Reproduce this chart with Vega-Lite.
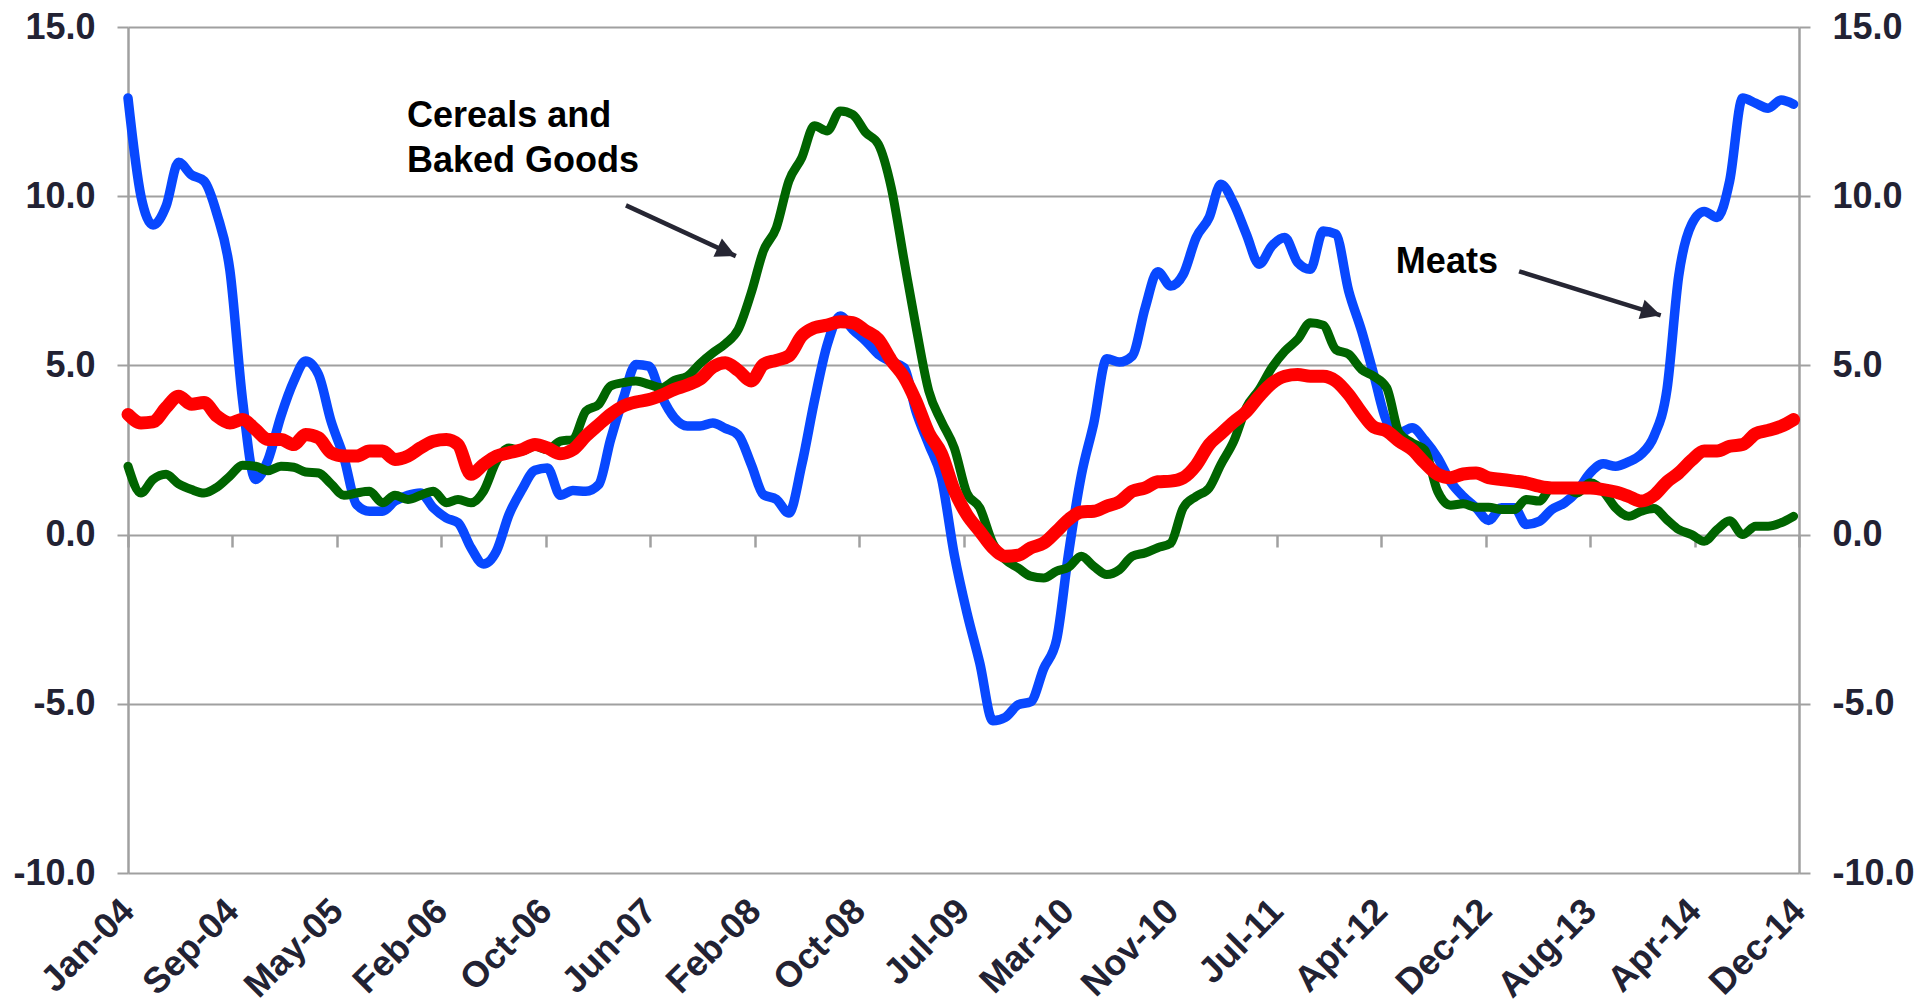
{
  "$schema": "https://vega.github.io/schema/vega-lite/v6.json",
  "width": 1671,
  "height": 846,
  "autosize": {"type": "none"},
  "padding": {"left": 128, "top": 27, "right": 118, "bottom": 134},
  "background": "white",
  "config": {
    "view": {"stroke": null},
    "font": "Liberation Sans",
    "axis": {"labelFont": "Liberation Sans", "labelFontSize": 36, "labelFontWeight": "bold", "labelColor": "#222233", "titleFont": "Liberation Sans"}
  },
  "datasets": {
    "food": [
      {"date":"2004-01-15","meats":12.9,"cereals":2.02,"food":3.55},
      {"date":"2004-02-15","meats":10.0,"cereals":1.23,"food":3.3},
      {"date":"2004-03-15","meats":9.15,"cereals":1.63,"food":3.33},
      {"date":"2004-04-15","meats":9.7,"cereals":1.78,"food":3.75},
      {"date":"2004-05-15","meats":11.0,"cereals":1.5,"food":4.09},
      {"date":"2004-06-15","meats":10.63,"cereals":1.33,"food":3.85},
      {"date":"2004-07-15","meats":10.45,"cereals":1.23,"food":3.9},
      {"date":"2004-08-15","meats":9.47,"cereals":1.4,"food":3.5},
      {"date":"2004-09-15","meats":7.8,"cereals":1.73,"food":3.3},
      {"date":"2004-10-15","meats":4.0,"cereals":2.05,"food":3.4},
      {"date":"2004-11-15","meats":1.63,"cereals":2.02,"food":3.11},
      {"date":"2004-12-15","meats":2.2,"cereals":1.89,"food":2.81},
      {"date":"2005-01-15","meats":3.5,"cereals":2.02,"food":2.81},
      {"date":"2005-02-15","meats":4.54,"cereals":1.99,"food":2.66},
      {"date":"2005-03-15","meats":5.13,"cereals":1.85,"food":2.96},
      {"date":"2005-04-15","meats":4.73,"cereals":1.82,"food":2.86},
      {"date":"2005-05-15","meats":3.35,"cereals":1.5,"food":2.42},
      {"date":"2005-06-15","meats":2.27,"cereals":1.16,"food":2.32},
      {"date":"2005-07-15","meats":0.89,"cereals":1.23,"food":2.32},
      {"date":"2005-08-15","meats":0.69,"cereals":1.28,"food":2.47},
      {"date":"2005-09-15","meats":0.69,"cereals":0.94,"food":2.47},
      {"date":"2005-10-15","meats":0.99,"cereals":1.16,"food":2.22},
      {"date":"2005-11-15","meats":1.16,"cereals":1.04,"food":2.32},
      {"date":"2005-12-15","meats":1.23,"cereals":1.16,"food":2.56},
      {"date":"2006-01-15","meats":0.79,"cereals":1.28,"food":2.76},
      {"date":"2006-02-15","meats":0.49,"cereals":0.94,"food":2.81},
      {"date":"2006-03-15","meats":0.35,"cereals":1.04,"food":2.66},
      {"date":"2006-04-15","meats":-0.39,"cereals":0.94,"food":1.78},
      {"date":"2006-05-15","meats":-0.87,"cereals":1.28,"food":2.07},
      {"date":"2006-06-15","meats":-0.49,"cereals":2.17,"food":2.32},
      {"date":"2006-07-15","meats":0.59,"cereals":2.56,"food":2.42},
      {"date":"2006-08-15","meats":1.33,"cereals":2.47,"food":2.51},
      {"date":"2006-09-15","meats":1.9,"cereals":2.61,"food":2.66},
      {"date":"2006-10-15","meats":1.97,"cereals":2.51,"food":2.56},
      {"date":"2006-11-15","meats":1.16,"cereals":2.76,"food":2.39},
      {"date":"2006-12-15","meats":1.3,"cereals":2.81,"food":2.51},
      {"date":"2007-01-15","meats":1.28,"cereals":3.65,"food":2.91},
      {"date":"2007-02-15","meats":1.48,"cereals":3.85,"food":3.25},
      {"date":"2007-03-15","meats":2.8,"cereals":4.39,"food":3.55},
      {"date":"2007-04-15","meats":4.04,"cereals":4.49,"food":3.8},
      {"date":"2007-05-15","meats":5.03,"cereals":4.54,"food":3.92},
      {"date":"2007-06-15","meats":4.98,"cereals":4.44,"food":3.99},
      {"date":"2007-07-15","meats":4.09,"cereals":4.34,"food":4.12},
      {"date":"2007-08-15","meats":3.45,"cereals":4.56,"food":4.29},
      {"date":"2007-09-15","meats":3.21,"cereals":4.68,"food":4.42},
      {"date":"2007-10-15","meats":3.21,"cereals":5.05,"food":4.59},
      {"date":"2007-11-15","meats":3.3,"cereals":5.37,"food":4.95},
      {"date":"2007-12-15","meats":3.14,"cereals":5.64,"food":5.08},
      {"date":"2008-01-15","meats":2.94,"cereals":6.07,"food":4.85},
      {"date":"2008-02-15","meats":2.07,"cereals":7.15,"food":4.54},
      {"date":"2008-03-15","meats":1.18,"cereals":8.38,"food":5.03},
      {"date":"2008-04-15","meats":1.04,"cereals":9.07,"food":5.15},
      {"date":"2008-05-15","meats":0.64,"cereals":10.45,"food":5.28},
      {"date":"2008-06-15","meats":2.07,"cereals":11.14,"food":5.87},
      {"date":"2008-07-15","meats":3.94,"cereals":12.08,"food":6.11},
      {"date":"2008-08-15","meats":5.62,"cereals":11.93,"food":6.19},
      {"date":"2008-09-15","meats":6.46,"cereals":12.52,"food":6.29},
      {"date":"2008-10-15","meats":6.06,"cereals":12.41,"food":6.26},
      {"date":"2008-11-15","meats":5.72,"cereals":11.88,"food":6.02},
      {"date":"2008-12-15","meats":5.33,"cereals":11.54,"food":5.77},
      {"date":"2009-01-15","meats":5.11,"cereals":10.26,"food":5.15},
      {"date":"2009-02-15","meats":4.93,"cereals":8.09,"food":4.65},
      {"date":"2009-03-15","meats":3.65,"cereals":6.16,"food":3.95},
      {"date":"2009-04-15","meats":2.66,"cereals":4.24,"food":3.0},
      {"date":"2009-05-15","meats":1.68,"cereals":3.35,"food":2.4},
      {"date":"2009-06-15","meats":-0.6,"cereals":2.56,"food":1.3},
      {"date":"2009-07-15","meats":-2.3,"cereals":1.23,"food":0.59},
      {"date":"2009-08-15","meats":-3.8,"cereals":0.79,"food":0.1},
      {"date":"2009-09-15","meats":-5.5,"cereals":-0.25,"food":-0.39},
      {"date":"2009-10-15","meats":-5.4,"cereals":-0.74,"food":-0.64},
      {"date":"2009-11-15","meats":-5.03,"cereals":-0.99,"food":-0.61},
      {"date":"2009-12-15","meats":-4.94,"cereals":-1.23,"food":-0.39},
      {"date":"2010-01-15","meats":-3.96,"cereals":-1.28,"food":-0.25},
      {"date":"2010-02-15","meats":-3.1,"cereals":-1.08,"food":0.1},
      {"date":"2010-03-15","meats":-0.6,"cereals":-0.97,"food":0.44},
      {"date":"2010-04-15","meats":1.75,"cereals":-0.64,"food":0.67},
      {"date":"2010-05-15","meats":3.3,"cereals":-0.94,"food":0.69},
      {"date":"2010-06-15","meats":5.2,"cereals":-1.18,"food":0.84},
      {"date":"2010-07-15","meats":5.1,"cereals":-1.04,"food":0.97},
      {"date":"2010-08-15","meats":5.28,"cereals":-0.64,"food":1.28},
      {"date":"2010-09-15","meats":6.71,"cereals":-0.54,"food":1.38},
      {"date":"2010-10-15","meats":7.77,"cereals":-0.39,"food":1.56},
      {"date":"2010-11-15","meats":7.35,"cereals":-0.25,"food":1.58},
      {"date":"2010-12-15","meats":7.69,"cereals":0.79,"food":1.68},
      {"date":"2011-01-15","meats":8.78,"cereals":1.13,"food":2.05},
      {"date":"2011-02-15","meats":9.37,"cereals":1.38,"food":2.66},
      {"date":"2011-03-15","meats":10.35,"cereals":2.07,"food":2.98},
      {"date":"2011-04-15","meats":9.78,"cereals":2.76,"food":3.33},
      {"date":"2011-05-15","meats":8.88,"cereals":3.75,"food":3.63},
      {"date":"2011-06-15","meats":7.99,"cereals":4.29,"food":4.09},
      {"date":"2011-07-15","meats":8.53,"cereals":4.93,"food":4.47},
      {"date":"2011-08-15","meats":8.78,"cereals":5.42,"food":4.68},
      {"date":"2011-09-15","meats":8.04,"cereals":5.77,"food":4.73},
      {"date":"2011-10-15","meats":7.84,"cereals":6.26,"food":4.68},
      {"date":"2011-11-15","meats":8.97,"cereals":6.19,"food":4.68},
      {"date":"2011-12-15","meats":8.88,"cereals":5.47,"food":4.54},
      {"date":"2012-01-15","meats":7.2,"cereals":5.33,"food":4.14},
      {"date":"2012-02-15","meats":6.02,"cereals":4.88,"food":3.6},
      {"date":"2012-03-15","meats":4.73,"cereals":4.68,"food":3.18},
      {"date":"2012-04-15","meats":3.35,"cereals":4.34,"food":3.06},
      {"date":"2012-05-15","meats":3.0,"cereals":3.0,"food":2.76},
      {"date":"2012-06-15","meats":3.16,"cereals":2.71,"food":2.51},
      {"date":"2012-07-15","meats":2.79,"cereals":2.5,"food":2.12},
      {"date":"2012-08-15","meats":2.27,"cereals":1.28,"food":1.78},
      {"date":"2012-09-15","meats":1.56,"cereals":0.87,"food":1.68},
      {"date":"2012-10-15","meats":1.13,"cereals":0.91,"food":1.79},
      {"date":"2012-11-15","meats":0.79,"cereals":0.81,"food":1.82},
      {"date":"2012-12-15","meats":0.42,"cereals":0.81,"food":1.68},
      {"date":"2013-01-15","meats":0.79,"cereals":0.74,"food":1.63},
      {"date":"2013-02-15","meats":0.79,"cereals":0.74,"food":1.58},
      {"date":"2013-03-15","meats":0.3,"cereals":1.04,"food":1.53},
      {"date":"2013-04-15","meats":0.39,"cereals":0.99,"food":1.43},
      {"date":"2013-05-15","meats":0.74,"cereals":1.38,"food":1.38},
      {"date":"2013-06-15","meats":0.94,"cereals":1.38,"food":1.38},
      {"date":"2013-07-15","meats":1.28,"cereals":1.23,"food":1.38},
      {"date":"2013-08-15","meats":1.82,"cereals":1.53,"food":1.38},
      {"date":"2013-09-15","meats":2.09,"cereals":1.28,"food":1.33},
      {"date":"2013-10-15","meats":2.02,"cereals":0.79,"food":1.26},
      {"date":"2013-11-15","meats":2.15,"cereals":0.54,"food":1.13},
      {"date":"2013-12-15","meats":2.37,"cereals":0.69,"food":0.99},
      {"date":"2014-01-15","meats":2.91,"cereals":0.77,"food":1.16},
      {"date":"2014-02-15","meats":4.29,"cereals":0.44,"food":1.56},
      {"date":"2014-03-15","meats":7.64,"cereals":0.15,"food":1.82},
      {"date":"2014-04-15","meats":9.17,"cereals":0.0,"food":2.2},
      {"date":"2014-05-15","meats":9.55,"cereals":-0.2,"food":2.47},
      {"date":"2014-06-15","meats":9.37,"cereals":0.15,"food":2.47},
      {"date":"2014-07-15","meats":10.45,"cereals":0.41,"food":2.61},
      {"date":"2014-08-15","meats":12.9,"cereals":0.0,"food":2.66},
      {"date":"2014-09-15","meats":12.75,"cereals":0.25,"food":2.98},
      {"date":"2014-10-15","meats":12.6,"cereals":0.25,"food":3.08},
      {"date":"2014-11-15","meats":12.84,"cereals":0.35,"food":3.2},
      {"date":"2014-12-15","meats":12.72,"cereals":0.54,"food":3.4}
    ],
    "notes": [
      {"date":"2005-11-13","value":12.04,"label":"Cereals and"},
      {"date":"2005-11-13","value":10.71,"label":"Baked Goods"},
      {"date":"2012-05-07","value":7.72,"label":"Meats"}
    ],
    "arrows": [
      {"name":"cereals","date":"2007-04-21","value":9.73,"date2":"2008-01-09","value2":8.23},
      {"name":"meats","date":"2013-02-26","value":7.78,"date2":"2014-01-31","value2":6.48}
    ]
  },
  "layer": [
    {
      "data": {"name": "food"},
      "encoding": {
        "x": {
          "field": "date", "type": "temporal",
          "scale": {"type": "utc", "domain": [{"year":2004,"month":1,"date":15,"utc":true},{"year":2014,"month":12,"date":28,"utc":true}]},
          "axis": {
            "orient": "bottom",
            "values": [
              {"year":2004,"month":1,"date":15,"utc":true},
              {"year":2004,"month":9,"date":21,"utc":true},
              {"year":2005,"month":5,"date":29,"utc":true},
              {"year":2006,"month":2,"date":3,"utc":true},
              {"year":2006,"month":10,"date":11,"utc":true},
              {"year":2007,"month":6,"date":18,"utc":true},
              {"year":2008,"month":2,"date":23,"utc":true},
              {"year":2008,"month":10,"date":30,"utc":true},
              {"year":2009,"month":7,"date":7,"utc":true},
              {"year":2010,"month":3,"date":14,"utc":true},
              {"year":2010,"month":11,"date":19,"utc":true},
              {"year":2011,"month":7,"date":27,"utc":true},
              {"year":2012,"month":4,"date":2,"utc":true},
              {"year":2012,"month":12,"date":8,"utc":true},
              {"year":2013,"month":8,"date":15,"utc":true},
              {"year":2014,"month":4,"date":22,"utc":true},
              {"year":2014,"month":12,"date":28,"utc":true}
            ],
            "format": "%b-%y",
            "labelAngle": -45,
            "labelAlign": "right",
            "labelBaseline": "middle",
            "labelPadding": 32,
            "labelOverlap": false,
            "labelFlush": false,
            "labelBound": false,
            "ticks": false,
            "domain": false,
            "grid": false,
            "title": null
          }
        }
      },
      "layer": [
        {
          "mark": {"type": "line", "color": "#0848ff", "strokeWidth": 9.5, "interpolate": "monotone", "strokeCap": "round", "strokeJoin": "round"},
          "encoding": {
            "y": {"field": "meats", "type": "quantitative", "scale": {"domain": [-10, 15], "nice": false, "zero": false},
              "axis": {"orient": "left", "values": [-10,-5,0,5,10,15], "format": ".1f", "labelExpr": "replace(datum.label, '−', '-')", "grid": true, "gridColor": "#a0a0a0", "gridWidth": 2, "domain": true, "domainColor": "#a0a0a0", "domainWidth": 2.5, "ticks": true, "tickSize": 11, "tickColor": "#a0a0a0", "tickWidth": 2, "labelPadding": 22, "title": null}}
          }
        },
        {
          "mark": {"type": "line", "color": "#006400", "strokeWidth": 9, "interpolate": "monotone", "strokeCap": "round", "strokeJoin": "round"},
          "encoding": {
            "y": {"field": "cereals", "type": "quantitative", "scale": {"domain": [-10, 15], "nice": false, "zero": false},
              "axis": {"orient": "left", "values": [-10,-5,0,5,10,15], "format": ".1f", "labelExpr": "replace(datum.label, '−', '-')", "grid": true, "gridColor": "#a0a0a0", "gridWidth": 2, "domain": true, "domainColor": "#a0a0a0", "domainWidth": 2.5, "ticks": true, "tickSize": 11, "tickColor": "#a0a0a0", "tickWidth": 2, "labelPadding": 22, "title": null}}
          }
        },
        {
          "mark": {"type": "line", "color": "#ff0000", "strokeWidth": 13, "interpolate": "monotone", "strokeCap": "round", "strokeJoin": "round"},
          "encoding": {
            "y": {"field": "food", "type": "quantitative", "scale": {"domain": [-10, 15], "nice": false, "zero": false},
              "axis": {"orient": "left", "values": [-10,-5,0,5,10,15], "format": ".1f", "labelExpr": "replace(datum.label, '−', '-')", "grid": true, "gridColor": "#a0a0a0", "gridWidth": 2, "domain": true, "domainColor": "#a0a0a0", "domainWidth": 2.5, "ticks": true, "tickSize": 11, "tickColor": "#a0a0a0", "tickWidth": 2, "labelPadding": 22, "title": null}}
          }
        }
      ]
    },
    {
      "encoding": {
        "x": {
          "field": "date", "type": "temporal",
          "scale": {"type": "utc", "domain": [{"year":2004,"month":1,"date":15,"utc":true},{"year":2014,"month":12,"date":28,"utc":true}]},
          "axis": {
            "orient": "bottom",
            "offset": -338,
            "values": [
              {"year":2004,"month":1,"date":15,"utc":true},
              {"year":2004,"month":9,"date":21,"utc":true},
              {"year":2005,"month":5,"date":29,"utc":true},
              {"year":2006,"month":2,"date":3,"utc":true},
              {"year":2006,"month":10,"date":11,"utc":true},
              {"year":2007,"month":6,"date":18,"utc":true},
              {"year":2008,"month":2,"date":23,"utc":true},
              {"year":2008,"month":10,"date":30,"utc":true},
              {"year":2009,"month":7,"date":7,"utc":true},
              {"year":2010,"month":3,"date":14,"utc":true},
              {"year":2010,"month":11,"date":19,"utc":true},
              {"year":2011,"month":7,"date":27,"utc":true},
              {"year":2012,"month":4,"date":2,"utc":true},
              {"year":2012,"month":12,"date":8,"utc":true},
              {"year":2013,"month":8,"date":15,"utc":true},
              {"year":2014,"month":4,"date":22,"utc":true},
              {"year":2014,"month":12,"date":28,"utc":true}
            ],
            "labels": false,
            "ticks": true,
            "tickSize": 12,
            "tickWidth": 2.5,
            "tickColor": "#a0a0a0",
            "domain": false,
            "grid": false,
            "title": null
          }
        },
        "y": {
          "field": "value", "type": "quantitative",
          "scale": {"domain": [-10, 15], "nice": false, "zero": false},
          "axis": {"orient": "right", "values": [-10,-5,0,5,10,15], "format": ".1f", "labelExpr": "replace(datum.label, '−', '-')", "grid": false, "domain": true, "domainColor": "#a0a0a0", "domainWidth": 2.5, "ticks": true, "tickSize": 11, "tickColor": "#a0a0a0", "tickWidth": 2, "labelPadding": 22, "title": null}
        }
      },
      "layer": [
        {
          "data": {"name": "notes"},
          "mark": {"type": "text", "align": "left", "baseline": "alphabetic", "font": "Liberation Sans", "fontSize": 36, "fontWeight": "bold", "color": "#000000"},
          "encoding": {"text": {"field": "label", "type": "nominal"}}
        },
        {
          "data": {"name": "arrows"},
          "mark": {"type": "rule", "color": "#262633", "strokeWidth": 4.5, "strokeCap": "butt"},
          "encoding": {
            "x2": {"field": "date2"},
            "y2": {"field": "value2"}
          }
        },
        {
          "data": {"name": "arrows"},
          "transform": [{"filter": "datum.name == 'cereals'"}],
          "mark": {"type": "point", "shape": "M0,0L-2,-1L-2,1Z", "size": 400, "angle": 24.9, "filled": true, "opacity": 1, "color": "#262633", "strokeWidth": 0},
          "encoding": {
            "x": {"field": "date2", "type": "temporal"},
            "y": {"field": "value2", "type": "quantitative"}
          }
        },
        {
          "data": {"name": "arrows"},
          "transform": [{"filter": "datum.name == 'meats'"}],
          "mark": {"type": "point", "shape": "M0,0L-2,-1L-2,1Z", "size": 400, "angle": 17.3, "filled": true, "opacity": 1, "color": "#262633", "strokeWidth": 0},
          "encoding": {
            "x": {"field": "date2", "type": "temporal"},
            "y": {"field": "value2", "type": "quantitative"}
          }
        }
      ]
    }
  ],
  "resolve": {"axis": {"x": "independent", "y": "independent"}}
}
